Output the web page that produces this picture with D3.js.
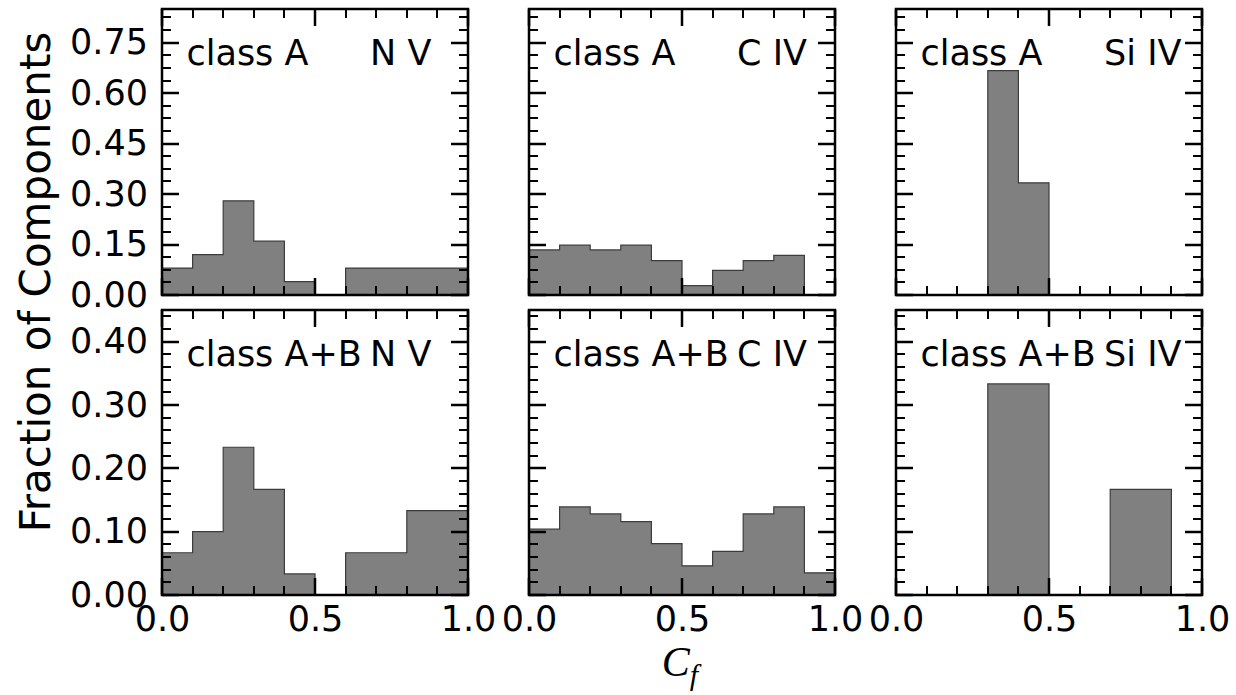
<!DOCTYPE html>
<html>
<head>
<meta charset="utf-8">
<script src="https://cdn.jsdelivr.net/npm/d3@7"></script>
<style>
  body { margin: 0; background: #fff; }
  text { font-family: "DejaVu Sans", sans-serif; }
</style>
</head>
<body>
<div class="canvas"></div>
<script>
// bin edges (lower edge of each 0.1 wide bin)
const binStarts = [0.0, 0.1, 0.2, 0.3, 0.4, 0.5, 0.6, 0.7, 0.8, 0.9]

// class A fractions
const nvA   = [0.08, 0.12, 0.28, 0.16, 0.04, 0, 0.08, 0.08, 0.08, 0.08]
const civA  = [0.134, 0.148, 0.134, 0.148, 0.102, 0.028, 0.073, 0.102, 0.118, 0]
const siivA = [0, 0, 0, 0.6667, 0.3333, 0, 0, 0, 0, 0]

// class A+B fractions
const nvAB   = [0.0667, 0.1, 0.2333, 0.1667, 0.0333, 0, 0.0667, 0.0667, 0.1333, 0.1333]
const civAB  = [0.104, 0.139, 0.128, 0.116, 0.081, 0.046, 0.069, 0.128, 0.139, 0.035]
const siivAB = [0, 0, 0, 0.3333, 0.3333, 0, 0, 0.1667, 0.1667, 0]

const ions = ['N V', 'C IV', 'Si IV']
const classes = ['class A', 'class A+B']
const rowValues = [[nvA, civA, siivA], [nvAB, civAB, siivAB]]

// axis ticks per row
const yMax = [0.85, 0.45]
const yMajor = [[0, 0.15, 0.30, 0.45, 0.60, 0.75], [0, 0.10, 0.20, 0.30, 0.40]]
const yMinor = [
  [0.0375, 0.075, 0.1125, 0.1875, 0.225, 0.2625, 0.3375, 0.375, 0.4125, 0.4875, 0.525, 0.5625, 0.6375, 0.675, 0.7125, 0.7875, 0.825],
  [0.02, 0.04, 0.06, 0.08, 0.12, 0.14, 0.16, 0.18, 0.22, 0.24, 0.26, 0.28, 0.32, 0.34, 0.36, 0.38, 0.42, 0.44]
]
const xMajor = [0, 0.5, 1.0]
const xMinor = [0.1, 0.2, 0.3, 0.4, 0.6, 0.7, 0.8, 0.9]

const dims = { width: 1236, height: 695 }
const colX = [162, 529, 896]
const rowY = [9, 310]
const pw = 306
const ph = [286, 285]
const majorLen = 17, minorLen = 9

const svg = d3.select('.canvas').append('svg')
  .attr('width', dims.width)
  .attr('height', dims.height)

const x = d3.scaleLinear().domain([0, 1]).range([0, pw])

rowValues.forEach((row, r) => {
  const y = d3.scaleLinear().domain([0, yMax[r]]).range([ph[r], 0])

  row.forEach((vals, c) => {
    const g = svg.append('g').attr('transform', `translate(${colX[c]},${rowY[r]})`)

    // stepfilled histogram
    const pts = binStarts.map((b, i) => [b, vals[i]])
    pts.push([1.0, vals[vals.length - 1]])
    const area = d3.area()
      .curve(d3.curveStepAfter)
      .x(d => x(d[0]))
      .y0(y(0))
      .y1(d => y(d[1]))
    g.append('path')
      .attr('d', area(pts))
      .attr('fill', '#808080')
      .attr('stroke', '#3c3c3c')
      .attr('stroke-width', 1.2)

    // inward ticks on all four sides
    const ticks = g.append('g').attr('stroke', '#000')
    const yTicks = (vals, len, w) => {
      ticks.selectAll(null).data(vals).enter().append('line')
        .attr('x1', 0).attr('x2', len).attr('y1', d => Math.round(y(d))).attr('y2', d => Math.round(y(d)))
        .attr('stroke-width', w)
      ticks.selectAll(null).data(vals).enter().append('line')
        .attr('x1', pw).attr('x2', pw - len).attr('y1', d => Math.round(y(d))).attr('y2', d => Math.round(y(d)))
        .attr('stroke-width', w)
    }
    const xTicks = (vals, len, w) => {
      ticks.selectAll(null).data(vals).enter().append('line')
        .attr('y1', ph[r]).attr('y2', ph[r] - len).attr('x1', d => Math.round(x(d))).attr('x2', d => Math.round(x(d)))
        .attr('stroke-width', w)
      ticks.selectAll(null).data(vals).enter().append('line')
        .attr('y1', 0).attr('y2', len).attr('x1', d => Math.round(x(d))).attr('x2', d => Math.round(x(d)))
        .attr('stroke-width', w)
    }
    yTicks(yMajor[r], majorLen, 2.5)
    yTicks(yMinor[r], minorLen, 2)
    xTicks(xMajor, majorLen, 2.5)
    xTicks(xMinor, minorLen, 2)

    // tick labels via d3 axes (left column / bottom row only)
    if (c === 0) {
      const a = g.append('g').call(d3.axisLeft(y).tickValues(yMajor[r]).tickSize(0).tickPadding(14).tickFormat(d3.format('.2f')))
      a.select('.domain').remove()
      a.selectAll('text').style('font-size', '35px').style('font-family', '"DejaVu Sans", sans-serif').attr('fill', '#000')
    }
    if (r === 1) {
      const a = g.append('g').attr('transform', `translate(0,${ph[r]})`)
        .call(d3.axisBottom(x).tickValues(xMajor).tickSize(0).tickPadding(11).tickFormat(d3.format('.1f')))
      a.select('.domain').remove()
      a.selectAll('text').style('font-size', '35px').style('font-family', '"DejaVu Sans", sans-serif').attr('fill', '#000')
    }

    // frame
    g.append('rect')
      .attr('width', pw).attr('height', ph[r])
      .attr('fill', 'none').attr('stroke', '#000').attr('stroke-width', 2.5)

    // panel labels
    g.append('text')
      .attr('x', x(0.08)).attr('y', 56)
      .style('font-size', '35px')
      .text(classes[r])
    g.append('text')
      .attr('x', x(0.68)).attr('y', 56)
      .style('font-size', '35px')
      .text(ions[c])
  })
})

// y axis title
svg.append('text')
  .attr('transform', 'translate(50,282) rotate(-90)')
  .attr('text-anchor', 'middle')
  .style('font-size', '42px')
  .text('Fraction of Components')

// x axis title C_f
const xt = svg.append('text')
  .attr('x', 680).attr('y', 676)
  .attr('text-anchor', 'middle')
  .style('font-family', '"Liberation Serif", serif')
  .style('font-style', 'italic')
  .style('font-size', '42px')
xt.append('tspan').text('C')
xt.append('tspan').attr('dy', 9).style('font-size', '30px').text('f')
</script>
</body>
</html>
